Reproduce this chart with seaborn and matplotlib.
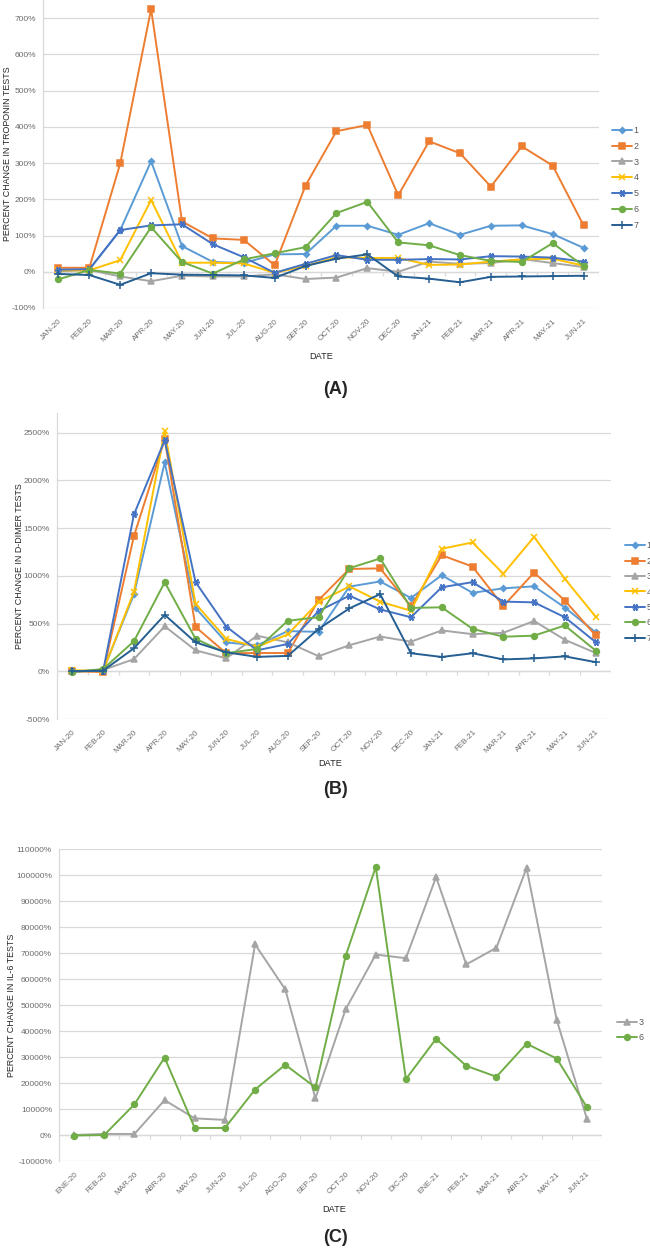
import matplotlib
matplotlib.use("Agg")
import matplotlib.pyplot as plt
import matplotlib.ticker as mticker
import seaborn as sns
import numpy as np
import pandas as pd

# month labels (panel C uses spanish abbreviations)
months_en = ['JAN-20', 'FEB-20', 'MAR-20', 'APR-20', 'MAY-20', 'JUN-20', 'JUL-20', 'AUG-20', 'SEP-20',
             'OCT-20', 'NOV-20', 'DEC-20', 'JAN-21', 'FEB-21', 'MAR-21', 'APR-21', 'MAY-21', 'JUN-21']
months_es = ['ENE-20', 'FEB-20', 'MAR-20', 'ABR-20', 'MAY-20', 'JUN-20', 'JUL-20', 'AGO-20', 'SEP-20',
             'OCT-20', 'NOV-20', 'DIC-20', 'ENE-21', 'FEB-21', 'MAR-21', 'ABR-21', 'MAY-21', 'JUN-21']

# (A) troponin, percent change
trop_1 = [5, 6, 115, 305, 71, 27, 24, 48, 49, 127, 127, 102, 134, 102, 127, 128, 104, 66]
trop_2 = [11, 11, 299, 725, 139, 92, 88, 18, 238, 388, 405, 211, 360, 327, 235, 346, 293, 128]
trop_3 = [1, 5, -13, -26, -11, -13, -13, -7, -20, -16, 10, 0, 28, 22, 24, 35, 24, 13]
trop_4 = [4, 4, 32, 198, 25, 25, 23, -3, 16, 40, 38, 38, 19, 20, 28, 34, 36, 17]
trop_5 = [6, 7, 115, 128, 131, 76, 40, -3, 22, 46, 33, 33, 35, 34, 43, 42, 39, 28]
trop_6 = [-21, 5, -5, 123, 27, -5, 34, 51, 68, 162, 193, 81, 73, 46, 30, 27, 79, 16]
trop_7 = [-6, -9, -36, -4, -8, -9, -10, -17, 16, 36, 48, -13, -19, -29, -14, -13, -12, -11]

# (B) d-dimer, percent change
ddim_1 = [0, 10, 805, 2188, 664, 302, 272, 421, 413, 887, 941, 768, 1006, 822, 869, 890, 668, 408]
ddim_2 = [0, -8, 1417, 2432, 465, 188, 192, 191, 746, 1072, 1078, 680, 1216, 1097, 682, 1034, 741, 375]
ddim_3 = [0, 14, 127, 471, 220, 135, 373, 303, 158, 273, 364, 310, 428, 389, 403, 527, 330, 192]
ddim_4 = [10, 5, 831, 2516, 708, 340, 256, 386, 726, 889, 729, 634, 1283, 1350, 1022, 1407, 969, 573]
ddim_5 = [0, 5, 1643, 2421, 935, 468, 220, 286, 631, 792, 648, 566, 880, 934, 730, 722, 566, 306]
ddim_6 = [-10, 24, 315, 933, 341, 190, 234, 529, 567, 1080, 1182, 664, 670, 445, 362, 373, 480, 217]
ddim_7 = [0, 7, 241, 591, 303, 199, 151, 161, 444, 659, 808, 189, 150, 189, 124, 135, 156, 96]

# (C) IL-6, percent change
il6_3 = [0, 400, 400, 13400, 6400, 5800, 73300, 56000, 14100, 48300, 69400, 68000,
         99200, 65600, 72000, 102700, 44200, 6200]
il6_6 = [-200, 0, 11800, 29800, 2700, 2700, 17500, 27000, 18300, 68800, 103100, 21500,
         37000, 26600, 22400, 35100, 29400, 10700]

colors = {'1': '#5B9BD5', '2': '#ED7D31', '3': '#A5A5A5', '4': '#FFC000',
          '5': '#4472C4', '6': '#70AD47', '7': '#255E91'}
markers = {'1': 'D', '2': 's', '3': '^', '4': 'x', '5': (6, 2, 90), '6': 'o', '7': '+'}
msizes = {'1': 3.0, '2': 4.6, '3': 4.0, '4': 4.5, '5': 5.0, '6': 4.2, '7': 5.5}

sns.set_style('white')
plt.rcParams['font.family'] = ['Liberation Sans', 'DejaVu Sans']

W, H = 650, 1253
fig = plt.figure(figsize=(W / 100, H / 100), dpi=100)


def px_axes(left, top, right, bottom):
    return fig.add_axes([left / W, 1 - bottom / H, (right - left) / W, (bottom - top) / H])


def draw_panel(ax, series, months, ylim, ystep, ylabel, ylabel_x, leg_x, leg_y, leg_space):
    for name, vals in series.items():
        df = pd.DataFrame({'idx': np.arange(len(months)), 'value': vals})
        sns.lineplot(data=df, x='idx', y='value', ax=ax, color=colors[name], label=name,
                     marker=markers[name], markersize=msizes[name], linewidth=1.4,
                     markeredgecolor=colors[name], markeredgewidth=1.1)
    ax.set_xlim(-0.5, len(months) - 0.5)
    ax.set_yticks(np.arange(ylim[0], ylim[1] + 1, ystep))
    ax.set_ylim(*ylim)
    ax.yaxis.set_major_formatter(mticker.FuncFormatter(lambda v, p: f'{v:.0f}%'))
    ax.set_xticks(np.arange(len(months)))
    ax.set_xticklabels(months, rotation=45, ha='right', rotation_mode='anchor')
    ax.tick_params(axis='x', length=0, pad=7, labelsize=5.8, labelcolor='#6b6b6b')
    ax.tick_params(axis='y', length=0, pad=5, labelsize=6.0, labelcolor='#6b6b6b')
    ax.grid(True, axis='y', color='#D9D9D9', linewidth=0.9)
    ax.grid(False, axis='x')
    for s in ['top', 'right', 'bottom']:
        ax.spines[s].set_visible(False)
    ax.spines['left'].set_color('#D9D9D9')
    ax.spines['left'].set_linewidth(0.9)
    # category axis at 0% with ticks between categories
    ax.axhline(0, color='#D9D9D9', linewidth=0.9, zorder=1)
    tick_h = (ylim[1] - ylim[0]) * 0.013
    ax.vlines(np.arange(-0.5, len(months)), -tick_h, 0, color='#D9D9D9', linewidth=0.9, zorder=1)
    ax.set_xlabel('')
    ax.set_ylabel('')
    pos = ax.get_position()
    fig.text(ylabel_x / W, (pos.y0 + pos.y1) / 2, ylabel, rotation=90, ha='center', va='center',
             fontsize=6.4, color='#262626')
    leg = ax.legend(loc='center left', bbox_to_anchor=(leg_x / W, 1 - leg_y / H),
                    bbox_transform=fig.transFigure, frameon=False, fontsize=6.4,
                    handlelength=2.2, handletextpad=0.25, labelspacing=leg_space,
                    borderaxespad=0, borderpad=0)
    for t in leg.get_texts():
        t.set_color('#595959')


# (A)
ax_a = px_axes(43, 0, 599, 308)
draw_panel(ax_a, {'1': trop_1, '2': trop_2, '3': trop_3, '4': trop_4, '5': trop_5, '6': trop_6, '7': trop_7},
           months_en, (-100, 750), 100, 'PERCENT CHANGE IN TROPONIN TESTS', 8, 612, 178, 0.78)
fig.text(321 / W, 1 - 356 / H, 'DATE', ha='center', va='center', fontsize=6.6, color='#262626')
fig.text(336 / W, 1 - 390 / H, '(A)', ha='center', va='center', fontsize=13, fontweight='bold')

# (B)
ax_b = px_axes(57, 413, 611, 719)
draw_panel(ax_b, {'1': ddim_1, '2': ddim_2, '3': ddim_3, '4': ddim_4, '5': ddim_5, '6': ddim_6, '7': ddim_7},
           months_en, (-500, 2706), 500, 'PERCENT CHANGE IN D-DIMER TESTS', 20, 625, 592, 0.72)
fig.text(330 / W, 1 - 763 / H, 'DATE', ha='center', va='center', fontsize=6.6, color='#262626')
fig.text(336 / W, 1 - 790 / H, '(B)', ha='center', va='center', fontsize=13, fontweight='bold')

# (C)
ax_c = px_axes(59, 849, 602, 1161)
draw_panel(ax_c, {'3': il6_3, '6': il6_6},
           months_es, (-10000, 110000), 10000, 'PERCENT CHANGE IN IL-6 TESTS', 12, 617, 1030, 0.72)
fig.text(334 / W, 1 - 1210 / H, 'DATE', ha='center', va='center', fontsize=6.6, color='#262626')
fig.text(336 / W, 1 - 1238 / H, '(C)', ha='center', va='center', fontsize=13, fontweight='bold')

fig.savefig('out.png', dpi=100, facecolor='white')
